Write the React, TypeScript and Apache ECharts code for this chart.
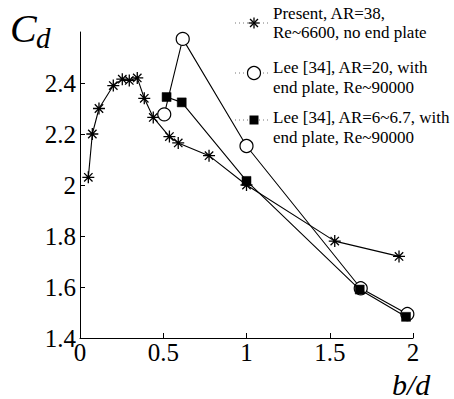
import React, { useEffect, useRef } from "react";
import * as echarts from "echarts";

const presentX = [0.05, 0.074, 0.114, 0.2, 0.254, 0.296, 0.344, 0.386, 0.44, 0.537, 0.59, 0.775, 1.0, 1.53, 1.916];
const presentY = [2.03, 2.2, 2.3, 2.39, 2.415, 2.41, 2.42, 2.34, 2.265, 2.19, 2.165, 2.115, 2.0, 1.78, 1.72];
const leeAR20X = [0.506, 0.617, 1.0, 1.686, 1.966];
const leeAR20Y = [2.277, 2.573, 2.153, 1.595, 1.494];
const leeAR6X = [0.52, 0.611, 1.0, 1.68, 1.958];
const leeAR6Y = [2.345, 2.324, 2.016, 1.59, 1.483];
const seriesNames = [
  ["Present, AR=38,", "Re~6600, no end plate"],
  ["Lee [34], AR=20, with", "end plate, Re~90000"],
  ["Lee [34], AR=6~6.7, with", "end plate, Re~90000"],
];
const yTicks = [1.4, 1.6, 1.8, 2.0, 2.2, 2.4];
const xTicks = [0, 0.5, 1, 1.5, 2];

const FONT = "Liberation Serif";
const ASTERISK = "path://M0,-6L0,6M-6,0L6,0M-4.2,-4.2L4.2,4.2M-4.2,4.2L4.2,-4.2";

const zip = (xs: number[], ys: number[]) => xs.map((x, i) => [x, ys[i]]);

const LEG_X0 = 235;
const LEG_X1 = 271;
const LEG_MX = 254;
const LEG_TX = 273;
const legendRows = [
  { marker: 23, lines: [13, 32] },
  { marker: 73, lines: [67, 87] },
  { marker: 120, lines: [117, 137] },
];

function legendMarker(kind: number, cx: number, cy: number): any[] {
  if (kind === 0) {
    const r = 5.5;
    const d = r * 0.72;
    const segs = [
      [0, -r, 0, r],
      [-r, 0, r, 0],
      [-d, -d, d, d],
      [-d, d, d, -d],
    ];
    return segs.map((s) => ({
      type: "line",
      shape: { x1: cx + s[0], y1: cy + s[1], x2: cx + s[2], y2: cy + s[3] },
      style: { stroke: "#000", lineWidth: 1.3 },
      z: 10,
    }));
  }
  if (kind === 1) {
    return [
      {
        type: "circle",
        shape: { cx, cy, r: 6.5 },
        style: { fill: "#fff", stroke: "#000", lineWidth: 1.2 },
        z: 10,
      },
    ];
  }
  return [
    {
      type: "rect",
      shape: { x: cx - 4.5, y: cy - 4.5, width: 9, height: 9 },
      style: { fill: "#000" },
      z: 10,
    },
  ];
}

export default function App() {
  const ref = useRef<HTMLDivElement>(null);
  useEffect(() => {
    if (!ref.current) return;
    const chart = echarts.init(ref.current, null, { renderer: "svg" });

    const legendGraphics: any[] = [];
    legendRows.forEach((row, i) => {
      legendGraphics.push({
        type: "line",
        shape: { x1: LEG_X0, y1: row.marker, x2: LEG_X1, y2: row.marker },
        style: { stroke: "#777", lineWidth: 1, lineDash: [1, 3] },
        z: 9,
      });
      legendGraphics.push(...legendMarker(i, LEG_MX, row.marker));
      row.lines.forEach((y, j) => {
        legendGraphics.push({
          type: "text",
          x: LEG_TX,
          y,
          style: {
            text: seriesNames[i][j],
            fontFamily: FONT,
            fontSize: 17,
            fill: "#000",
            align: "left",
            verticalAlign: "middle",
          },
          z: 10,
        });
      });
    });

    chart.setOption({
      animation: false,
      backgroundColor: "#fff",
      textStyle: { fontFamily: FONT },
      grid: { left: 80, right: 41, top: 32, bottom: 61, containLabel: false },
      xAxis: {
        type: "value",
        min: 0,
        max: 2,
        interval: 0.5,
        axisLine: { lineStyle: { color: "#000", width: 1 } },
        axisTick: { inside: true, length: 5, lineStyle: { color: "#000" } },
        axisLabel: {
          color: "#000",
          fontFamily: FONT,
          fontSize: 25,
          margin: 2,
          customValues: xTicks,
          formatter: (v: number) => String(v),
        },
        splitLine: { show: false },
      },
      yAxis: {
        type: "value",
        min: 1.4,
        max: 2.6,
        interval: 0.2,
        axisLine: { show: true, lineStyle: { color: "#000", width: 1 } },
        axisTick: { show: true, inside: true, length: 5, lineStyle: { color: "#000" }, customValues: yTicks },
        axisLabel: {
          color: "#000",
          fontFamily: FONT,
          fontSize: 25,
          margin: 4,
          customValues: yTicks,
          formatter: (v: number) => (Math.abs(v - 2) < 1e-9 ? "2" : v.toFixed(1)),
        },
        splitLine: { show: false },
      },
      graphic: [
        {
          type: "text",
          x: 10,
          y: 28.5,
          style: {
            text: "C",
            fontFamily: FONT,
            fontStyle: "italic",
            fontSize: 40,
            fill: "#000",
            verticalAlign: "middle",
          },
        },
        {
          type: "text",
          x: 36,
          y: 38,
          style: {
            text: "d",
            fontFamily: FONT,
            fontStyle: "italic",
            fontSize: 29,
            fill: "#000",
            verticalAlign: "middle",
          },
        },
        {
          type: "text",
          x: 392,
          y: 384,
          style: {
            text: "b/d",
            fontFamily: FONT,
            fontStyle: "italic",
            fontSize: 30,
            fill: "#000",
            verticalAlign: "middle",
          },
        },
        ...legendGraphics,
      ],
      series: [
        {
          name: seriesNames[0].join(" "),
          type: "line",
          data: zip(presentX, presentY),
          symbol: ASTERISK,
          symbolSize: 12,
          showAllSymbol: true,
          lineStyle: { color: "#000", width: 1.1 },
          itemStyle: { color: "transparent", borderColor: "#000", borderWidth: 1.3 },
          z: 3,
        },
        {
          name: seriesNames[1].join(" "),
          type: "line",
          data: zip(leeAR20X, leeAR20Y),
          symbol: "circle",
          symbolSize: 13,
          lineStyle: { color: "#000", width: 1.1 },
          itemStyle: { color: "#fff", borderColor: "#000", borderWidth: 1.2 },
          z: 2,
        },
        {
          name: seriesNames[2].join(" "),
          type: "line",
          data: zip(leeAR6X, leeAR6Y),
          symbol: "rect",
          symbolSize: 9,
          lineStyle: { color: "#000", width: 1.1 },
          itemStyle: { color: "#000", borderColor: "#000", borderWidth: 0.5 },
          z: 4,
        },
      ],
    });
    return () => chart.dispose();
  }, []);
  return <div ref={ref} style={{ width: 454, height: 399, position: "absolute", left: 0, top: 0 }} />;
}
